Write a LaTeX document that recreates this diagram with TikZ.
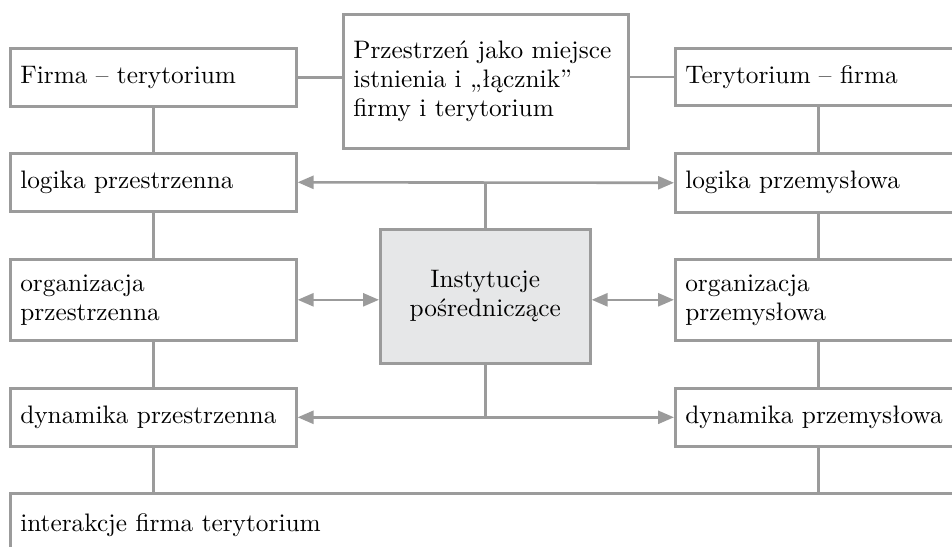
\documentclass[tikz,border=0pt]{standalone}
\usepackage{fontspec}
\setmainfont{lmroman10-regular.otf}
\usetikzlibrary{arrows.meta}
\definecolor{lineg}{HTML}{9B9B9B}
\definecolor{instfill}{HTML}{E6E7E8}
\begin{document}
\begin{tikzpicture}[x=1pt,y=-1pt,
  every node/.style={font=\fontsize{25.3}{29}\selectfont},
  box/.style={draw=lineg, line width=2.6pt, anchor=north west,
    inner xsep=10pt, inner ysep=0pt, align=left},
  conn/.style={draw=lineg, line width=2.6pt},
  arr/.style={conn, {Triangle[length=16pt,width=13pt]}-{Triangle[length=16pt,width=13pt]}, fill=lineg}]
\useasboundingbox (0,0) rectangle (952,546);
\clip (0,0) rectangle (952,546);

% left column
\node[box, minimum width=286pt, minimum height=58pt, text width=266pt] (firma) at (9,47) {Firma – terytorium};
\node[box, minimum width=286pt, minimum height=58pt, text width=266pt] (logL) at (9,152) {logika przestrzenna};
\node[box, minimum width=286pt, minimum height=81pt, text width=266pt] (orgL) at (9,258) {organizacja\\przestrzenna};
\node[box, minimum width=286pt, minimum height=58pt, text width=266pt] (dynL) at (9,387) {dynamika przestrzenna};

% right column
\node[box, minimum width=286pt, minimum height=57pt, text width=266pt] (teryt) at (674,47) {Terytorium – firma};
\node[box, minimum width=286pt, minimum height=59pt, text width=266pt] (logR) at (674,152) {logika przemysłowa};
\node[box, minimum width=286pt, minimum height=81pt, text width=266pt] (orgR) at (674,258) {organizacja\\przemysłowa};
\node[box, minimum width=286pt, minimum height=58pt, text width=266pt] (dynR) at (674,387) {dynamika przemysłowa};

% middle
\node[box, minimum width=285pt, minimum height=134pt, text width=265pt] (space) at (342,13) {Przestrzeń jako miejsce\\istnienia i „łącznik”\\firmy i terytorium};
\node[box, align=center, fill=instfill, minimum width=210pt, minimum height=134pt, text width=190pt] (inst) at (379,228) {Instytucje\\pośredniczące};

% bottom
\node[box, minimum width=990pt, minimum height=64pt, text width=970pt] (inter) at (9,492) {interakcje firma terytorium};

% top links
\draw[conn] (firma.east) -- (firma.east -| space.west);
\draw[conn] (space.east |- teryt.west) -- (teryt.west);

% column links
\draw[conn] (firma.south) -- (logL.north);
\draw[conn] (logL.south) -- (orgL.north);
\draw[conn] (orgL.south) -- (dynL.north);
\draw[conn] (dynL.south) -- (dynL.south |- inter.north);
\draw[conn] (teryt.south) -- (logR.north);
\draw[conn] (logR.south) -- (orgR.north);
\draw[conn] (orgR.south) -- (dynR.north);
\draw[conn] (dynR.south) -- (dynR.south |- inter.north);

% links through the institutions
\draw[conn] (inst.north) -- (inst.north |- logL.east);
\draw[arr] (logL.east) -- (logR.west);
\draw[arr] (orgL.east) -- (orgL.east -| inst.west);
\draw[arr] (inst.east |- orgR.west) -- (orgR.west);
\draw[conn] (inst.south) -- (inst.south |- dynL.east);
\draw[arr] (dynL.east) -- (dynR.west);
\end{tikzpicture}
\end{document}
